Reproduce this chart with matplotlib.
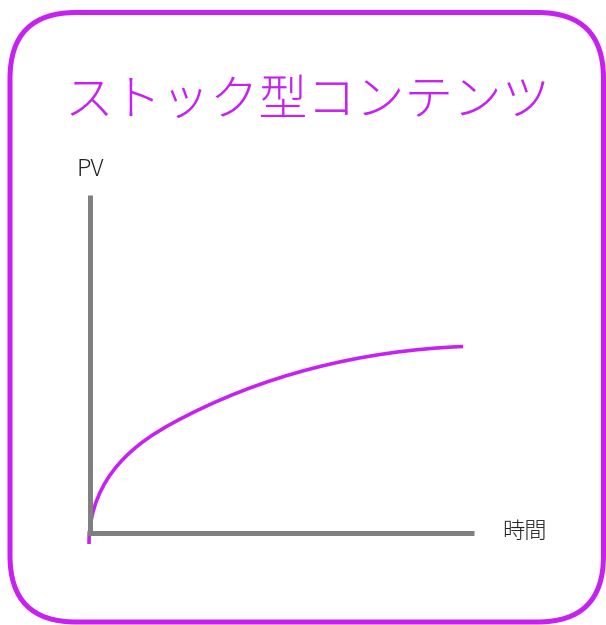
import matplotlib
matplotlib.use("Agg")
import matplotlib.pyplot as plt
from matplotlib.patches import FancyBboxPatch, PathPatch
from matplotlib.path import Path

plt.rcParams["font.family"] = ["Noto Sans CJK JP", "DejaVu Sans"]

# canvas in pixel units (y grows downward)
W, H = 606, 625
TITLE = "ストック型コンテンツ"
Y_LABEL = "PV"
X_LABEL = "時間"

# stock-type growth curve as two bezier pieces (anchor, ctrl, ctrl, anchor, ctrl, ctrl, anchor)
curve_x = [89, 89, 141, 171, 261, 363, 463]
curve_y = [544, 474, 440.5, 424, 374.5, 350.5, 346.5]

# axis lines (origin corner, top of y axis, end of x axis)
origin = (89.5, 532.5)
y_top = 195
x_end = 474

PURPLE = "#c620f2"
GRAY = "#808080"
PX = 72 / 100  # points per pixel at dpi 100

fig = plt.figure(figsize=(W / 100, H / 100), dpi=100)
ax = fig.add_axes([0, 0, 1, 1])
ax.set_xlim(0, W)
ax.set_ylim(H, 0)
ax.axis("off")

# rounded frame
frame = FancyBboxPatch((10, 12.5), 593.5, 609.5,
                       boxstyle="round,pad=0,rounding_size=66",
                       fc="white", ec=PURPLE, lw=5 * PX)
ax.add_patch(frame)

codes = [Path.MOVETO] + [Path.CURVE4] * (len(curve_x) - 1)
curve = Path(list(zip(curve_x, curve_y)), codes)
ax.add_patch(PathPatch(curve, fc="none", ec=PURPLE, lw=3.6 * PX,
                       capstyle="butt", zorder=3))

ax.plot([origin[0], origin[0]], [y_top, origin[1] + 2.5], color=GRAY, lw=5 * PX,
        solid_capstyle="butt", zorder=4)
ax.plot([origin[0] - 2.5, x_end], [origin[1], origin[1]], color=GRAY, lw=5 * PX,
        solid_capstyle="butt", zorder=4)

ax.text(307.5, 101, TITLE, ha="center", va="center", fontsize=35,
        fontweight="light", color=PURPLE)
ax.text(90, 170, Y_LABEL, ha="center", va="center", fontsize=17,
        fontweight="light", color="#222222")
ax.text(524.5, 532, X_LABEL, ha="center", va="center", fontsize=16,
        fontweight="light", color="#222222")

fig.savefig("out.png", dpi=100, facecolor="white")
